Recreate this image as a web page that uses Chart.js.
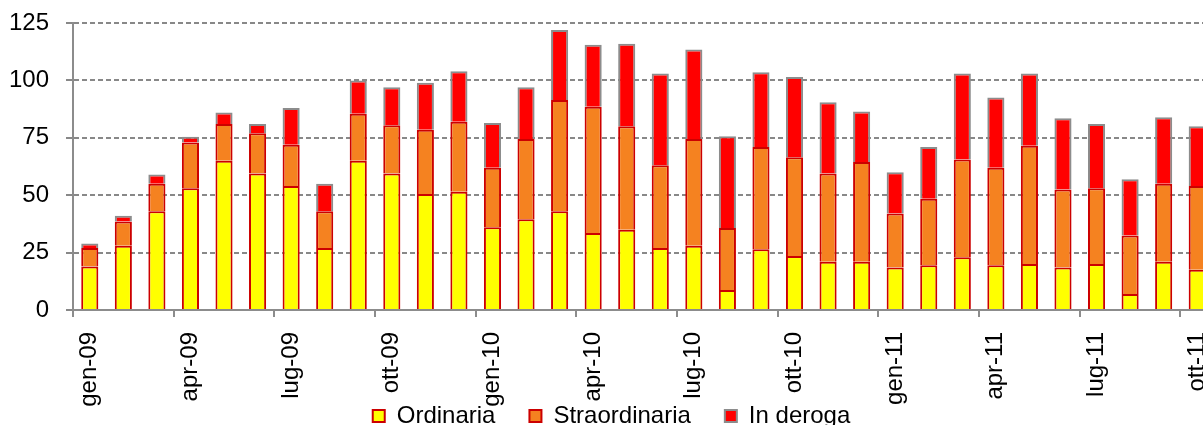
<!DOCTYPE html>
<html>
<head>
<meta charset="utf-8">
<script src="https://cdn.jsdelivr.net/npm/chart.js@4"></script>
<style>
  html, body { margin: 0; padding: 0; background: #fff; overflow: hidden; }
  #grafico { display: block; }
</style>
</head>
<body>
<canvas id="grafico" width="1214" height="482"></canvas>
<script>
// Mesi (gen-09 .. ott-11)
const mesi = [
  'gen-09','feb-09','mar-09','apr-09','mag-09','giu-09','lug-09','ago-09','set-09','ott-09','nov-09','dic-09',
  'gen-10','feb-10','mar-10','apr-10','mag-10','giu-10','lug-10','ago-10','set-10','ott-10','nov-10','dic-10',
  'gen-11','feb-11','mar-11','apr-11','mag-11','giu-11','lug-11','ago-11','set-11','ott-11'
];

// Serie
const ordinaria = [
  19, 28, 43, 53, 65, 59.5, 54, 27, 65, 59.5, 50.5, 51.5,
  36, 39.5, 43, 33.5, 35, 27, 28, 8.7, 26.5, 23.5, 21, 21,
  18.5, 19.5, 23, 19.5, 20, 18.5, 20, 7, 21, 17.5
];
const straordinaria = [
  8, 10.5, 12, 20, 16, 17.5, 18, 16, 20.5, 21, 28, 30.5,
  26, 35, 48.5, 55, 45, 36, 46.5, 27, 44.5, 43, 38.5, 43.5,
  23.5, 29, 42.5, 42.5, 51.5, 34, 33, 25.5, 34, 36.5
];
const inDeroga = [
  2, 2.5, 4, 2.5, 5, 4, 16, 12, 14.5, 16.5, 20.5, 22,
  19.5, 22.5, 30.5, 27, 36, 40, 39, 40, 32.5, 35, 31, 22,
  18, 22.5, 37.5, 30.5, 31.5, 31, 28, 24.5, 29, 26
];

const font = { family: "'Liberation Sans', Arial, sans-serif", size: 24 };

// la legenda nell'originale si sovrappone alle etichette dei mesi
const spostaLegenda = {
  id: 'spostaLegenda',
  afterLayout(chart) {
    const leg = chart.legend;
    const su = leg.top + leg.options.labels.padding - 404;
    leg.top -= su;
    leg.bottom -= su;
  }
};

const ctx = document.getElementById('grafico');

if (ctx) {
  new Chart(ctx, {
    type: 'bar',
    data: {
      labels: mesi,
      datasets: [
        { label: 'Ordinaria', data: ordinaria, backgroundColor: '#ffff00', borderColor: '#cc0000', borderWidth: 2 },
        { label: 'Straordinaria', data: straordinaria, backgroundColor: '#f58220', borderColor: '#cc0000', borderWidth: 2 },
        { label: 'In deroga', data: inDeroga, backgroundColor: '#ff0000', borderColor: '#8c8c8c', borderWidth: 2 }
      ]
    },
    options: {
      responsive: false,
      animation: false,
      layout: { padding: { left: 9, top: 23, right: 0, bottom: 0 } },
      datasets: { bar: { categoryPercentage: 1, barPercentage: 0.51 } },
      plugins: {
        legend: {
          position: 'bottom',
          labels: { font: font, color: '#000', boxWidth: 12, boxHeight: 12, padding: 34 }
        },
        tooltip: { enabled: false }
      },
      scales: {
        x: {
          stacked: true,
          grid: {
            offset: true,
            drawOnChartArea: false,
            tickLength: 7,
            lineWidth: 2,
            color: (c) => (c.index % 3 === 0 ? '#8c8c8c' : 'rgba(0,0,0,0)')
          },
          border: { color: '#8c8c8c', width: 2 },
          ticks: {
            autoSkip: false,
            maxRotation: 90,
            minRotation: 90,
            padding: 15,
            color: '#000',
            font: font,
            callback: function (v, i) { return i % 3 === 0 ? this.getLabelForValue(v) : ''; }
          },
          afterFit: (scale) => {
            scale.height = 104;
            scale.paddingLeft = 0;
            scale.paddingRight = 0;
          }
        },
        y: {
          stacked: true,
          min: 0,
          max: 125,
          grid: { color: '#888888', lineWidth: 2, tickLength: 7 },
          border: { color: '#8c8c8c', width: 2, dash: [5, 3] },
          ticks: { stepSize: 25, padding: 17, color: '#000', font: font },
          afterFit: (scale) => {
            scale.width = 64;
            scale.paddingTop = 0;
            scale.paddingBottom = 0;
          }
        }
      }
    },
    plugins: [spostaLegenda]
  });
}
</script>
</body>
</html>
